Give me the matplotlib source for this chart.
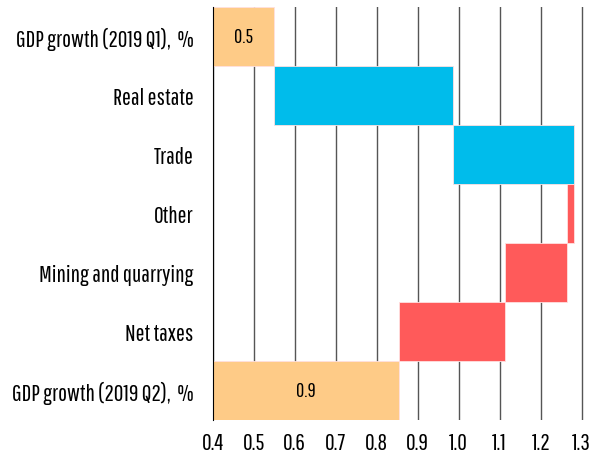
import matplotlib.pyplot as plt

labels = ['GDP growth (2019 Q1),  %', 'Real estate', 'Trade', 'Other',
          'Mining and quarrying', 'Net taxes', 'GDP growth (2019 Q2),  %']
changes = [0.55, 0.435, 0.297, -0.018, -0.151, -0.259]
total_label = ['0.5', '0.9']

plt.rcParams['font.family'] = ['Pathway Gothic One', 'DejaVu Sans']

# waterfall steps
lefts, widths, cols = [], [], []
run = 0.0
for i, c in enumerate(changes):
    if i == 0:
        lefts.append(0)
        widths.append(c)
        cols.append('#fecb87')
    else:
        lefts.append(min(run, run + c))
        widths.append(abs(c))
        cols.append('#00bceb' if c > 0 else '#ff5a5a')
    run += c
lefts.append(0)
widths.append(run)
cols.append('#fecb87')

fig = plt.figure(figsize=(5.93, 4.60), dpi=100)
ax = fig.add_axes([212.7/593, 39/460, 1 - 212.7/593, 413/460])

y = list(range(len(labels)))
ax.barh(y, widths, left=lefts, height=1.0, color=cols,
        edgecolor='#ffe0e0', linewidth=0.6, zorder=3)

ax.text((0.4 + changes[0]) / 2, 0, total_label[0], ha='center', va='center', fontsize=14.5, zorder=4)
ax.text((0.4 + run) / 2, 6, total_label[1], ha='center', va='center', fontsize=14.5, zorder=4)

ax.set_xlim(0.4, 1.3 + 11.3/41*0.1)
ax.set_ylim(6.5, -0.5)
ax.set_xticks([0.4 + 0.1*k for k in range(10)])
ax.set_xticklabels(['0.4', '0.5', '0.6', '0.7', '0.8', '0.9', '1.0', '1.1', '1.2', '1.3'])
ax.set_yticks(y)
ax.set_yticklabels(labels)
ax.tick_params(axis='both', length=0, labelsize=17)
ax.tick_params(axis='y', pad=14)
ax.tick_params(axis='x', pad=9)
ax.xaxis.grid(True, color='#555555', linewidth=1, zorder=0)
ax.set_axisbelow(True)
for s in ['top', 'right', 'bottom']:
    ax.spines[s].set_visible(False)
ax.spines['left'].set_color('black')
ax.spines['left'].set_zorder(5)

fig.savefig('out.png', dpi=100)
